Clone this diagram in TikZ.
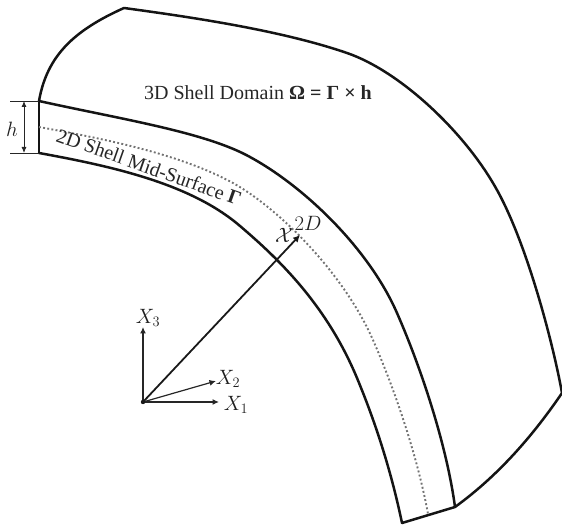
\documentclass[tikz,border=0pt]{standalone}
\usepackage{fontspec}
\setmainfont{Liberation Serif}
\usetikzlibrary{arrows.meta}
\tikzset{
 edgeline/.style={line width=2.5pt,line join=round,line cap=round,draw=black!92},
 midline/.style={line width=1.9pt,draw=black!55,dash pattern=on 1.9pt off 2.3pt},
 axisline/.style={line width=1.2pt,draw=black!85,-{Latex[length=6.5pt,width=6pt]}},
 dimline/.style={line width=.9pt,draw=black!85,{Latex[length=6pt,width=5pt]}-{Latex[length=6pt,width=5pt]}},
 tickline/.style={line width=.9pt,draw=black!85},
 lab/.style={inner sep=0pt,text=black!88,font=\fontsize{20}{22}\selectfont},
 txt/.style={inner sep=0pt,text=black!85,font=\fontsize{20}{22}\selectfont}
}
\begin{document}
\begin{tikzpicture}[x=1pt,y=-1pt]
\useasboundingbox (0,0) rectangle (562,526);
\coordinate (A) at (39,101);
\coordinate (B) at (39,153);
\coordinate (T) at (124,8);
\coordinate (R) at (562,393);
\coordinate (C) at (455,507);
\coordinate (D) at (402,523);
\coordinate (O) at (143,402);
\coordinate (P) at (300,235);
\coordinate (E3) at (143,327);
\coordinate (E2) at (216,381);
\coordinate (E1) at (219,402);
\coordinate (H1) at (10,101);
\coordinate (H2) at (10,153);
\coordinate (H1a) at (24,101);
\coordinate (H2a) at (24,153);
% outer outline
\draw[edgeline] (A) .. controls (47,55) and (75,30) .. (T)
  .. controls (190,17) and (280,30) .. (347,53)
  .. controls (400,71.2) and (465,132) .. (497,190)
  .. controls (527,244) and (553,343) .. (R)
  .. controls (530,440) and (495,478) .. (C);
% upper surface
\draw[edgeline] (A) .. controls (120,119) and (205,132) .. (250,157)
  .. controls (305,187) and (369,249) .. (397,313)
  .. controls (422,370) and (447,447) .. (C);
% lower surface
\draw[edgeline] (B) .. controls (110,166) and (190,183) .. (240,226)
  .. controls (280,260) and (327,306) .. (357,378)
  .. controls (377,426) and (392,475) .. (D);
\draw[edgeline] (A) -- (B);
\draw[edgeline] (C) -- (D);
% mid surface
\draw[midline] (39,127) .. controls (105,139) and (180,154) .. (233,183)
  .. controls (278,208) and (343,272) .. (373,340)
  .. controls (398,397) and (419,464) .. (428,514);
% dimension
\draw[tickline] (H1) -- (A);
\draw[tickline] (H2) -- (B);
\draw[dimline] (H1a) -- (H2a);
\node[lab] (hlab) at (12,129) {$h$};
% axes
\draw[axisline] (O) -- (E3);
\draw[axisline] (O) -- (E2);
\draw[axisline] (O) -- (E1);
\draw[line width=1.8pt,draw=black!90,-{Latex[length=7pt,width=7pt]}] (O) -- (P);
\fill[black!90] (O) circle (2.2pt);
\node[lab] (x3) at (148,318) {$X_3$};
\node[lab] (x2) at (228,379) {$X_2$};
\node[lab] (x1) at (236,405) {$X_1$};
\node[lab,font=\fontsize{22}{24}\selectfont] (chi) at (284,235) {$\mathcal{X}$};
\node[lab] (twod) at (308,223) {$2D$};
% labels
\node[txt] (dom) at (258,93) {3D Shell Domain \textbf{Ω = Γ × h}};
\node[txt,rotate=-19.5,anchor=base west] (mid) at (55,141) {2D Shell Mid-Surface \textbf{Γ}};
\end{tikzpicture}
\end{document}
